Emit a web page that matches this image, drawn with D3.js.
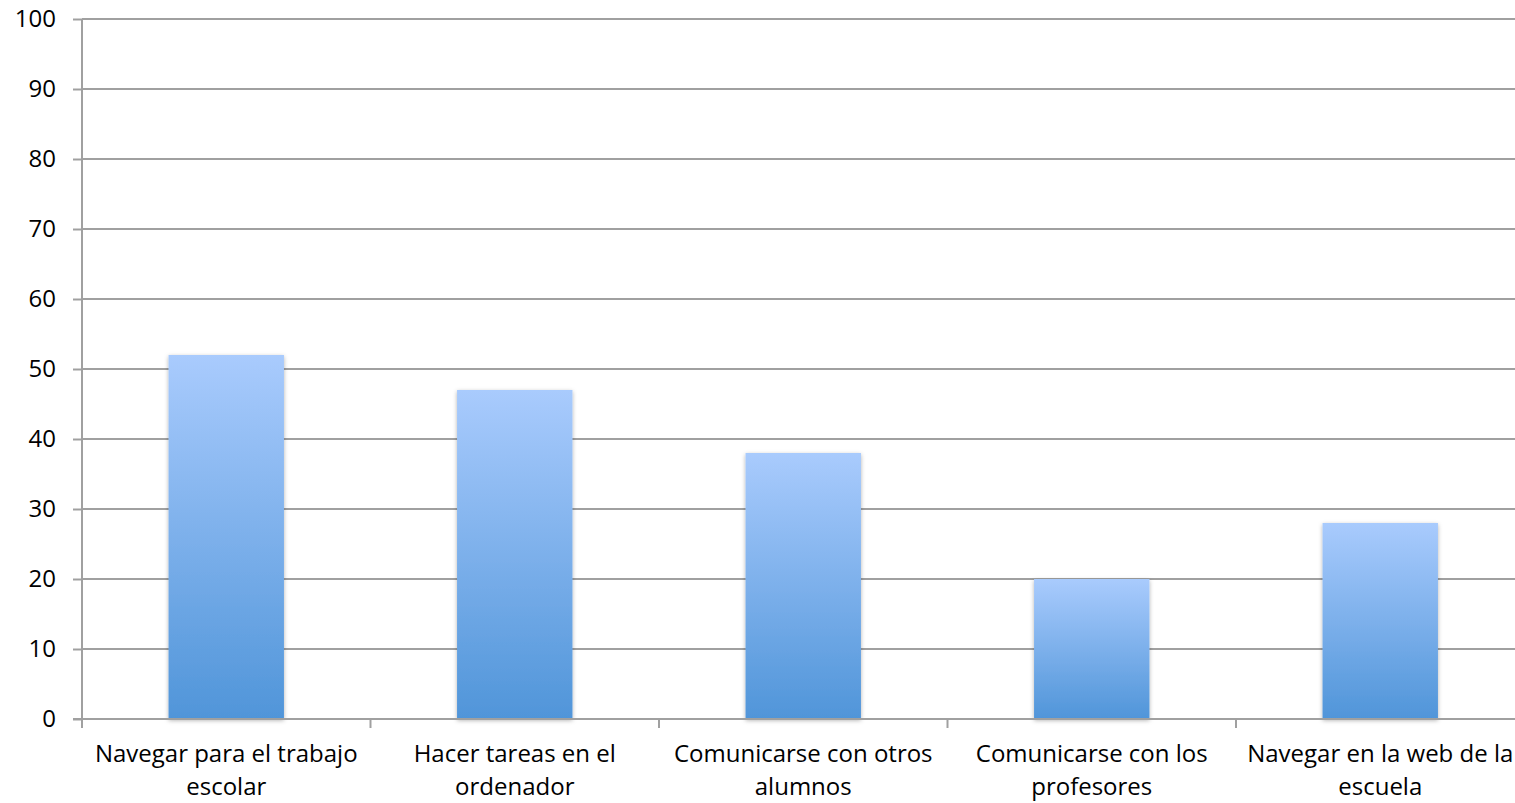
<!DOCTYPE html>
<html>
<head>
<meta charset="utf-8">
<script src="https://cdn.jsdelivr.net/npm/d3@7"></script>
<style>
  html, body { margin: 0; padding: 0; background: #fff; }
  svg { display: block; font-family: "Open Sans", "Liberation Sans", sans-serif; }
</style>
</head>
<body>
<svg id="chart" width="1515" height="803"></svg>
<script>
// data
const categories = [
   ["Navegar para el trabajo", "escolar"],
   ["Hacer tareas en el", "ordenador"],
   ["Comunicarse con otros", "alumnos"],
   ["Comunicarse con los", "profesores"],
   ["Navegar en la web de la", "escuela"]
];
const values = [52, 47, 38, 20, 28];
const yTicks = [0, 10, 20, 30, 40, 50, 60, 70, 80, 90, 100];

const margin = { left: 82, top: 19, right: 1524.5, bottom: 719 };

const svg = d3.select("#chart");

const defs = svg.append("defs");
const grad = defs.append("linearGradient")
   .attr("id", "barfill")
   .attr("x1", 0).attr("y1", 0).attr("x2", 0).attr("y2", 1);
grad.append("stop").attr("offset", "0%").attr("stop-color", "#a9cbfd");
grad.append("stop").attr("offset", "100%").attr("stop-color", "#5095d9");

const shadow = defs.append("filter").attr("id", "shadow")
   .attr("x", "-10%").attr("y", "-10%").attr("width", "120%").attr("height", "120%");
shadow.append("feDropShadow")
   .attr("dx", 0).attr("dy", 1.5).attr("stdDeviation", 2)
   .attr("flood-color", "#000").attr("flood-opacity", 0.3);

const x = d3.scaleBand()
   .domain(d3.range(categories.length))
   .range([margin.left, margin.right])
   .paddingInner(0.6)
   .paddingOuter(0.3);

const y = d3.scaleLinear()
   .domain([0, 100])
   .range([margin.bottom, margin.top]);

// gridlines + y ticks
const yAxis = svg.append("g")
   .attr("transform", `translate(${margin.left},0)`)
   .call(d3.axisLeft(y).tickValues(yTicks).tickSize(9).tickPadding(17))
   .call(g => g.select(".domain").remove());
yAxis.selectAll(".tick line").attr("stroke", "#a0a0a0").attr("stroke-width", 2);
yAxis.selectAll(".tick text")
   .attr("fill", "#000")
   .style("font-size", "24px")
   .style("font-family", "'Open Sans', sans-serif");

svg.append("g")
   .selectAll("line")
   .data(yTicks.filter(d => d > 0))
   .join("line")
   .attr("x1", margin.left).attr("x2", 1515)
   .attr("y1", d => y(d)).attr("y2", d => y(d))
   .attr("stroke", "#a0a0a0")
   .attr("stroke-width", 2);

// bars
svg.append("g")
   .selectAll("rect")
   .data(values)
   .join("rect")
   .attr("x", (d, i) => x(i))
   .attr("y", d => y(d))
   .attr("width", x.bandwidth())
   .attr("height", d => y(0) - y(d))
   .attr("fill", "url(#barfill)")
   .attr("filter", "url(#shadow)");

// y axis line
svg.append("line")
   .attr("x1", margin.left).attr("x2", margin.left)
   .attr("y1", margin.top).attr("y2", margin.bottom)
   .attr("stroke", "#a0a0a0").attr("stroke-width", 2);

// x axis line and category ticks
svg.append("line")
   .attr("x1", margin.left - 9).attr("x2", 1515)
   .attr("y1", margin.bottom).attr("y2", margin.bottom)
   .attr("stroke", "#a0a0a0").attr("stroke-width", 2);

svg.append("g")
   .selectAll("line")
   .data(d3.range(categories.length + 1))
   .join("line")
   .attr("x1", i => margin.left + i * (margin.right - margin.left) / categories.length)
   .attr("x2", i => margin.left + i * (margin.right - margin.left) / categories.length)
   .attr("y1", margin.bottom).attr("y2", margin.bottom + 9)
   .attr("stroke", "#a0a0a0").attr("stroke-width", 2);

// category labels
const labels = svg.append("g")
   .selectAll("text")
   .data(categories)
   .join("text")
   .attr("text-anchor", "middle")
   .attr("fill", "#000")
   .style("font-size", "24px");
labels.selectAll("tspan")
   .data((d, i) => d.map(line => ({ line, i })))
   .join("tspan")
   .attr("x", d => x(d.i) + x.bandwidth() / 2)
   .attr("y", (d, j) => 762 + j * 33)
   .text(d => d.line);
</script>
</body>
</html>
